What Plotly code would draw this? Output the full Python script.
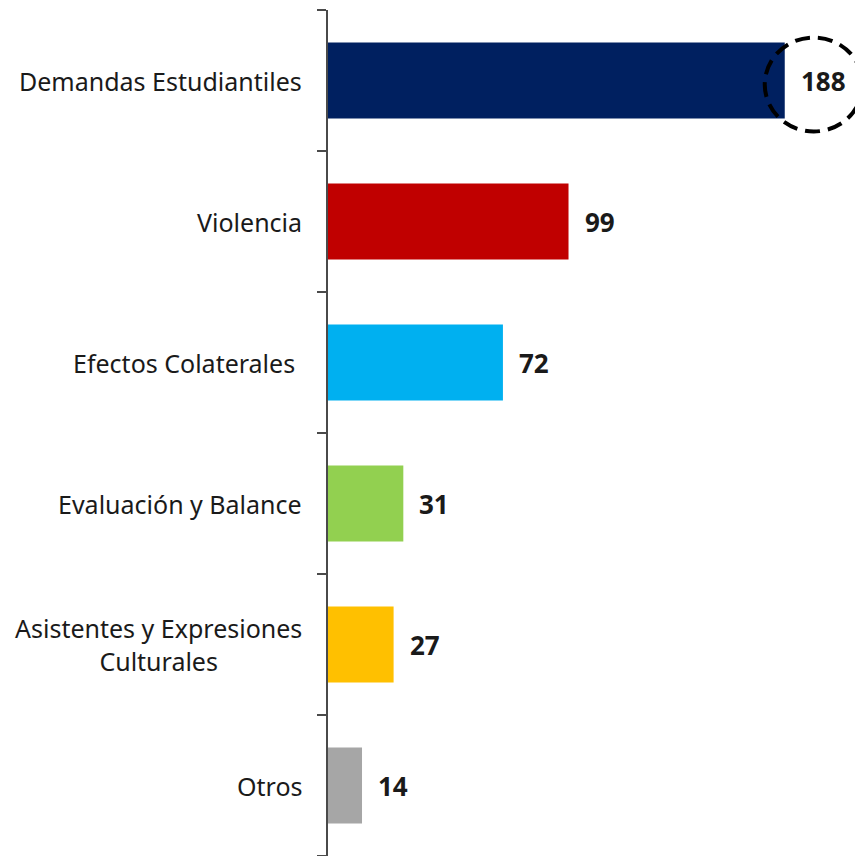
import plotly.graph_objects as go

categorias = ["Demandas Estudiantiles", "Violencia", "Efectos Colaterales\u00a0",
              "Evaluación y Balance", "Asistentes y Expresiones<br>Culturales", "Otros"]
valores = [188, 99, 72, 31, 27, 14]
colores = ["#002060", "#C00000", "#00B0F0", "#92D050", "#FFC000", "#A6A6A6"]

FONT = "Noto Sans"

fig = go.Figure()
fig.add_trace(go.Bar(
    y=list(range(len(valores))), x=valores, orientation="h",
    marker=dict(color=colores, line_width=0), width=0.54,
    hoverinfo="skip",
))

# etiquetas de valor
for i, v in enumerate(valores):
    fig.add_annotation(x=v, y=i, xref="x", yref="y", text=f"<b>{v}</b>",
                       showarrow=False, xanchor="left", xshift=14,
                       font=dict(family=FONT, size=26, color="#1a1a1a"))

# etiquetas de categoria (centradas si tienen dos lineas)
for i, c in enumerate(categorias):
    fig.add_annotation(x=0, y=i, xref="x", yref="y", text=c,
                       showarrow=False, xanchor="right", xshift=-24,
                       align="center",
                       font=dict(family=FONT, size=25, color="#1a1a1a"))

# circulo punteado alrededor de la primera cifra
fig.add_shape(type="circle", xref="x", yref="y",
              xsizemode="pixel", ysizemode="pixel",
              xanchor=valores[0], yanchor=0,
              x0=-20, x1=78, y0=-51, y1=43,
              line=dict(color="black", width=4, dash="15px,8px"))

fig.update_xaxes(range=[0, 223.5], visible=False, fixedrange=True)
fig.update_yaxes(type="linear", range=[5.5, -0.5], showgrid=False, zeroline=False,
                 showline=True, linecolor="#4a4a4a", linewidth=1.5,
                 ticks="outside", ticklen=9, tickcolor="#4a4a4a", tickwidth=1.5,
                 tickvals=[-0.5, 0.5, 1.5, 2.5, 3.5, 4.5, 5.5],
                 showticklabels=False)

fig.update_layout(
    width=863, height=856,
    margin=dict(l=320, r=0, t=2, b=8),
    plot_bgcolor="white", paper_bgcolor="white",
    showlegend=False, bargap=0.46,
)

fig.write_html("out.html")
